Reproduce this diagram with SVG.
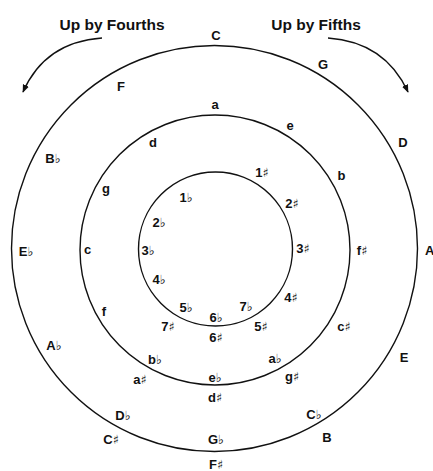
<svg xmlns="http://www.w3.org/2000/svg" width="433" height="471" viewBox="0 0 433 471">
<defs>
<marker id="ah" viewBox="0 0 10 10" refX="9" refY="5" markerWidth="8" markerHeight="8" markerUnits="userSpaceOnUse" orient="auto">
<path d="M0,1 L10,5 L0,9 Z" fill="#111"/>
</marker>
<style>
.ring{fill:none;stroke:#111;stroke-width:1.4}
.arr{fill:none;stroke:#111;stroke-width:1.4}
text{font-family:"Liberation Sans",Arial,sans-serif;font-weight:bold;font-size:13px;fill:#111;text-anchor:middle}
.title{font-size:15.5px}
.acc{font-family:"DejaVu Sans",sans-serif;font-weight:normal;font-size:12.5px}
</style>
</defs>
<rect width="433" height="471" fill="#fff"/>
<g id="connectors">
<path class="arr" d="M102,38 Q45,42 23,92" marker-end="url(#ah)"/>
<path class="arr" d="M328,38 Q385,42 408,92" marker-end="url(#ah)"/>
</g>
<g id="titles">
<text class="title" x="112" y="30">Up by Fourths</text>
<text class="title" x="316" y="30">Up by Fifths</text>
</g>
<g id="outer-ring">
<circle class="ring" cx="214.5" cy="248.5" r="203"/>
<text x="216" y="39.5">C</text>
<text x="323" y="69">G</text>
<text x="403" y="147">D</text>
<text x="425" y="255" style="text-anchor:start">A</text>
<text x="404" y="361.5">E</text>
<text x="327" y="442">B</text>
<text x="216" y="469">F<tspan class="acc">♯</tspan></text>
<text x="216" y="444">G<tspan class="acc">♭</tspan></text>
<text x="314" y="418.5">C<tspan class="acc">♭</tspan></text>
<text x="123" y="420">D<tspan class="acc">♭</tspan></text>
<text x="111" y="444">C<tspan class="acc">♯</tspan></text>
<text x="54" y="350">A<tspan class="acc">♭</tspan></text>
<text x="26" y="256">E<tspan class="acc">♭</tspan></text>
<text x="53" y="163">B<tspan class="acc">♭</tspan></text>
<text x="121" y="90.5">F</text>
</g>
<g id="middle-ring">
<circle class="ring" cx="215" cy="250" r="135"/>
<text x="215" y="109">a</text>
<text x="290" y="130">e</text>
<text x="341.5" y="180">b</text>
<text x="362" y="255">f<tspan class="acc">♯</tspan></text>
<text x="344" y="331">c<tspan class="acc">♯</tspan></text>
<text x="292" y="381">g<tspan class="acc">♯</tspan></text>
<text x="215" y="402">d<tspan class="acc">♯</tspan></text>
<text x="215" y="382">e<tspan class="acc">♭</tspan></text>
<text x="275" y="363">a<tspan class="acc">♭</tspan></text>
<text x="155" y="364">b<tspan class="acc">♭</tspan></text>
<text x="140" y="384">a<tspan class="acc">♯</tspan></text>
<text x="104" y="316">f</text>
<text x="87.5" y="254">c</text>
<text x="106" y="193">g</text>
<text x="153" y="147">d</text>
</g>
<g id="inner-ring">
<circle class="ring" cx="215.5" cy="249" r="77"/>
<text x="186" y="202">1<tspan class="acc">♭</tspan></text>
<text x="159" y="227">2<tspan class="acc">♭</tspan></text>
<text x="148" y="255">3<tspan class="acc">♭</tspan></text>
<text x="159" y="284">4<tspan class="acc">♭</tspan></text>
<text x="186" y="312">5<tspan class="acc">♭</tspan></text>
<text x="216" y="322">6<tspan class="acc">♭</tspan></text>
<text x="246" y="311">7<tspan class="acc">♭</tspan></text>
<text x="168" y="331">7<tspan class="acc">♯</tspan></text>
<text x="216" y="342">6<tspan class="acc">♯</tspan></text>
<text x="261" y="331">5<tspan class="acc">♯</tspan></text>
<text x="291" y="302">4<tspan class="acc">♯</tspan></text>
<text x="303" y="253">3<tspan class="acc">♯</tspan></text>
<text x="292" y="208">2<tspan class="acc">♯</tspan></text>
<text x="262" y="177">1<tspan class="acc">♯</tspan></text>
</g>
</svg>
